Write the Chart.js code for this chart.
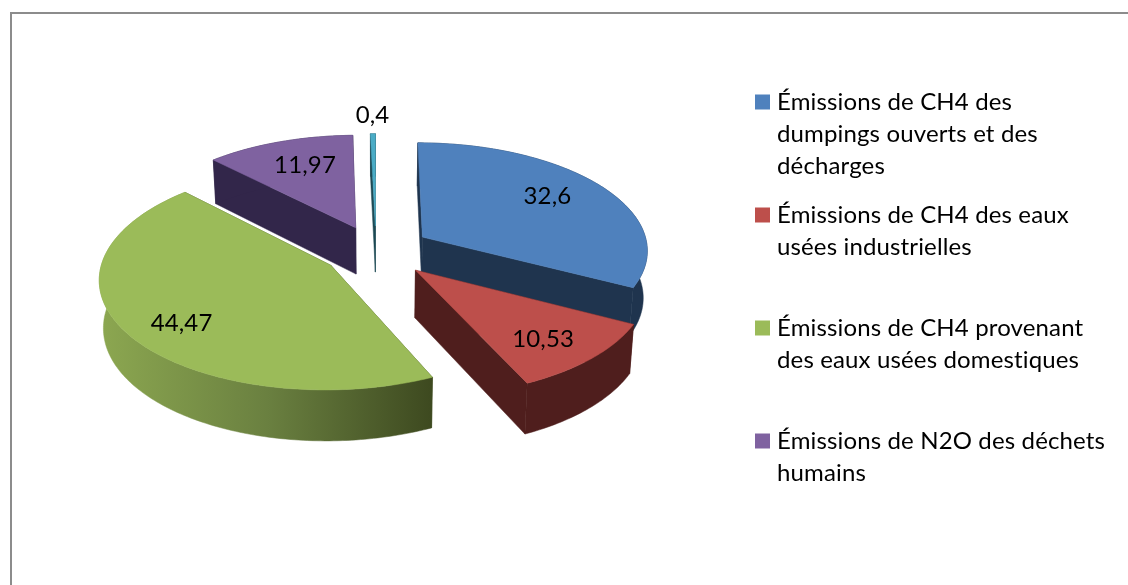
<!DOCTYPE html>
<html lang="fr">
<head>
<meta charset="utf-8">
<script src="https://cdn.jsdelivr.net/npm/chart.js@4/dist/chart.umd.js"></script>
<style>html,body{margin:0;padding:0;background:#fff}canvas{display:block}</style>
</head>
<body>
<canvas id="c" width="1128" height="585"></canvas>
<script>
const categories = [
  "Émissions de CH4 des dumpings ouverts et des décharges",
  "Émissions de CH4 des eaux usées industrielles",
  "Émissions de CH4 provenant des eaux usées domestiques",
  "Émissions de N2O des déchets humains",
  ""
];
const values = [32.6, 10.53, 44.47, 11.97, 0.4];
const legendLines = [
  ["Émissions de CH4 des", "dumpings ouverts et des", "décharges"],
  ["Émissions de CH4 des eaux", "usées industrielles", ""],
  ["Émissions de CH4 provenant", "des eaux usées domestiques", ""],
  ["Émissions de N2O des déchets", "humains", ""]
];
const topColors = ["#4f81bd", "#bd4f4b", "#9bbb59", "#7f62a0", "#4bacc6"];
const wallColors = ["#1f344e", "#4f1e1d", "#3e4a20", "#32264a", "#1e4a55"];
const paintOrder = [4, 3, 0, 2, 1];
const explode = [56, 57, 55, 54, 54];
const labelReach = [0.72, 0.82, 0.85, 0.6, 1.17];
const labelNudge = [[-5, -3], [-15, -2], [23, 1], [-3, -9], [0, -5]];
const FONT = "Lato, Carlito, sans-serif";

const view = {sx: 0.983, sy: 0.467, persp: 0.11, baseShrink: 0.985, h0: 47, h1: 3.5};

function projector(arc) {
  const R = arc.outerRadius, cx = arc.x, cy = arc.y;
  const mid = (arc.startAngle + arc.endAngle) / 2;
  const off = arc.options.offset || 0;
  const ox = Math.cos(mid) * off, oy = Math.sin(mid) * off;
  const top = (a, r) => {
    const X = ox + Math.cos(a) * r, Y = oy + Math.sin(a) * r;
    const n = Y / R, f = 1 / (1 - view.persp * n);
    return {x: cx + X * view.sx * f, y: cy + Y * view.sy * f, n};
  };
  const bottom = (a, r) => {
    const p = top(a, r);
    return {x: cx + (p.x - cx) * view.baseShrink, y: p.y + view.h0 + view.h1 * p.n};
  };
  return {top, bottom, R};
}
function poly(ctx, pts, fill) {
  ctx.beginPath();
  pts.forEach((p, i) => i ? ctx.lineTo(p.x, p.y) : ctx.moveTo(p.x, p.y));
  ctx.closePath();
  ctx.fillStyle = fill;
  ctx.fill();
  ctx.strokeStyle = fill;
  ctx.lineWidth = 0.5;
  ctx.stroke();
}
const solid3d = {
  id: "solid3d",
  afterLayout(chart) {
    const lg = chart.legend;
    const p = chart.options.plugins.legend.labels.padding;
    lg.left = 760 - p;
    lg.top = 90 - p;
    lg.right = 1128;
    lg.bottom = 585;
    lg.width = lg.right - lg.left;
    lg.height = lg.bottom - lg.top;
  },
  beforeDraw(chart) {
    const ctx = chart.ctx;
    ctx.letterSpacing = "0.14px";
    ctx.save();
    ctx.strokeStyle = "#8c8c8c";
    ctx.lineWidth = 2;
    ctx.beginPath();
    ctx.moveTo(11, 585); ctx.lineTo(11, 13); ctx.lineTo(1128, 13);
    ctx.stroke();
    ctx.restore();
  },
  beforeDatasetsDraw(chart) {
    const ctx = chart.ctx;
    const arcs = chart.getDatasetMeta(0).data;
    ctx.save();
    paintOrder.forEach(i => {
      const arc = arcs[i], pj = projector(arc), R = pj.R;
      const a0 = arc.startAngle, a1 = arc.endAngle;
      const n = Math.max(2, Math.ceil((a1 - a0) / (Math.PI / 180)));
      const angles = [];
      for (let k = 0; k <= n; k++) angles.push(a0 + (a1 - a0) * k / n);
      const rimT = angles.map(a => pj.top(a, R));
      const rimB = angles.map(a => pj.bottom(a, R));
      const apexT = pj.top(a0, 0), apexB = pj.bottom(a0, 0);
      poly(ctx, [apexT, rimT[0], rimB[0], apexB], wallColors[i]);
      poly(ctx, [apexT, rimT[n], rimB[n], apexB], wallColors[i]);
      let wallFill = wallColors[i];
      if (i === 2) {
        const g = ctx.createLinearGradient(105, 0, 430, 0);
        g.addColorStop(0, "#8ba650");
        g.addColorStop(0.5, "#6a8040");
        g.addColorStop(1, "#3e4a20");
        wallFill = g;
      }
      poly(ctx, rimT.concat(rimB.slice().reverse()), wallFill);
      poly(ctx, [apexT].concat(rimT), topColors[i]);
    });
    ctx.fillStyle = "#000";
    ctx.font = "24px " + FONT;
    ctx.textAlign = "center";
    ctx.textBaseline = "middle";
    arcs.forEach((arc, i) => {
      const pj = projector(arc);
      const p = pj.top((arc.startAngle + arc.endAngle) / 2, pj.R * labelReach[i]);
      ctx.fillText(String(values[i]).replace(".", ","), p.x + labelNudge[i][0], p.y + labelNudge[i][1]);
    });
    ctx.restore();
    return false;
  }
};

new Chart(document.getElementById("c"), {
  type: "pie",
  plugins: [solid3d],
  data: {
    labels: categories,
    datasets: [{
      data: values,
      backgroundColor: topColors,
      borderWidth: 0,
      offset: explode,
      radius: 230
    }]
  },
  options: {
    responsive: false,
    animation: false,
    layout: {padding: {bottom: 84, right: 18}},
    plugins: {
      tooltip: {enabled: false},
      legend: {
        position: "right",
        align: "start",
        maxWidth: 358,
        labels: {
          color: "#000",
          boxWidth: 5,
          boxHeight: 5,
          padding: 17,
          font: {family: FONT, size: 24, lineHeight: "32px"},
          generateLabels: chart => legendLines.map((lines, i) => ({
            text: lines,
            fillStyle: topColors[i],
            strokeStyle: topColors[i],
            lineWidth: 10,
            lineJoin: "miter",
            hidden: false,
            index: i
          }))
        }
      }
    }
  }
});
</script>
</body>
</html>
